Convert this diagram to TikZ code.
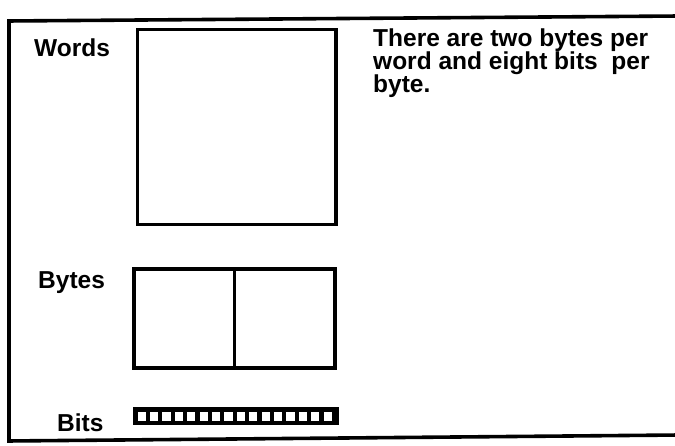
\documentclass[tikz,border=0pt]{standalone}
\usepackage{fontspec}
\setmainfont{Liberation Sans}
\begin{document}
\begin{tikzpicture}[x=1pt,y=-1pt,
  boxline/.style={draw=black, line width=3.6pt, inner sep=0pt},
  lbl/.style={font=\bfseries\fontsize{24.5}{23}\selectfont, anchor=base west, inner sep=0pt},
  desc/.style={font=\bfseries\fontsize{24.5}{23}\selectfont, anchor=base west, inner sep=0pt, align=left},
]
\useasboundingbox (0,0) rectangle (675,446);
\fill[white] (0,0) rectangle (675,446);
% outer frame (cut by the right edge)
\draw[line width=3.6pt] (7.2,21) -- (680,16);
\draw[line width=3.6pt] (9,19.2) -- (9,442.8);
\draw[line width=3.6pt] (7.2,441) -- (680,435);
% words box
\node[boxline, minimum width=198.5pt, minimum height=195pt] (words) at (236.75,127) {};
% bytes box
\node[boxline, minimum width=201pt, minimum height=99pt] (bytes) at (234.5,318.5) {};
\draw[line width=3.6pt] (bytes.north) -- (bytes.south);
% bits bar
\node[fill=black, minimum width=206pt, minimum height=18pt, inner sep=0pt, anchor=north west] (bits) at (133,407) {};
\foreach \i in {0,...,15} {
  \fill[white] ({137.5+\i*12.4},411.5) rectangle ++(8.2,9);
}
% labels
\node[lbl] (lwords) at (34,57) {Words};
\node[lbl] (lbytes) at (38,289) {Bytes};
\node[lbl] (lbits) at (57,431) {Bits};
\node[desc] (text) at (373,93) {There are two bytes per\\word and eight bits\ \ per\\byte.};
\end{tikzpicture}
\end{document}
